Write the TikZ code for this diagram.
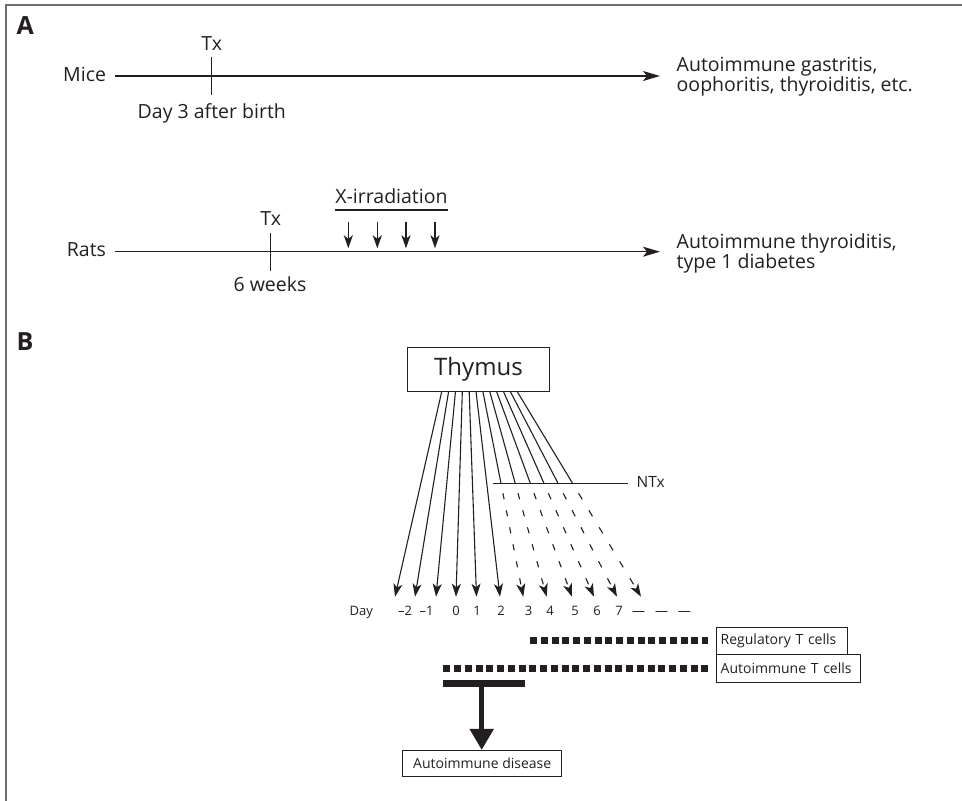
\documentclass[tikz,border=0pt]{standalone}
\usepackage{fontspec}
\setmainfont{Open Sans}
\usetikzlibrary{arrows.meta,calc}
\definecolor{ink}{HTML}{231F20}
\definecolor{framecol}{HTML}{6D6D6D}
\tikzset{
  txt/.style={inner sep=0pt, outer sep=0pt, text=ink, font=\fontsize{19.5}{20}\selectfont},
  lab/.style={inner sep=0pt, outer sep=0pt, text=ink, font=\bfseries\fontsize{25}{25}\selectfont, anchor=base west},
  daytxt/.style={inner sep=0pt, outer sep=0pt, text=ink, font=\fontsize{13}{13}\selectfont, anchor=base},
  smalltxt/.style={inner sep=0pt, outer sep=0pt, text=ink, font=\fontsize{15.5}{15.5}\selectfont},
  boxtxt/.style={draw=ink, line width=0.9pt, outer sep=0pt, text=ink, font=\fontsize{14}{14}\selectfont},
  timeline/.style={draw=ink, line width=1.5pt, -{Stealth[length=17pt, width=10pt, inset=4pt]}},
  tickmark/.style={draw=ink, line width=1.5pt},
  xarrow/.style={draw=ink, line width=1.5pt, -{Stealth[length=13pt, width=9pt, inset=3.5pt]}},
  fanline/.style={draw=ink, line width=1.1pt},
  fanarrow/.style={fanline, -{Stealth[length=13pt, width=9pt, inset=3.5pt]}},
  dotbar/.style={draw=ink, line width=7pt, dash pattern=on 7pt off 3.75pt},
}
\begin{document}
\begin{tikzpicture}[x=1pt,y=-1pt]
\useasboundingbox (0,0) rectangle (962,801);
\draw[framecol, line width=1.5pt] (6,801) -- (6,5) -- (962,5);

% ---------------- Panel A: mice
\node[lab] (labA) at (16.5,34) {A};
\node[txt, anchor=base east] (mice) at (106,81.7) {Mice};
\coordinate (m0) at (115,76);
\coordinate (m1) at (660,76);
\draw[timeline] (m0) -- (m1);
\coordinate (mt0) at (211.7,56.7);
\coordinate (mt1) at (211.7,95);
\draw[tickmark] (mt0) -- (mt1);
\node[txt, anchor=base] (mtx) at (211.7,50) {Tx};
\node[txt, anchor=base west] (mday) at (137.7,118.3) {Day 3 after birth};
\node[txt, anchor=base west, align=left] (mres) at (676.7,91.7) {Autoimmune gastritis,\\oophoritis, thyroiditis, etc.};

% ---------------- Panel A: rats
\node[txt, anchor=base east] (rats) at (106,256.7) {Rats};
\coordinate (r0) at (115,251.7);
\coordinate (r1) at (660,251.7);
\draw[timeline] (r0) -- (r1);
\coordinate (rt0) at (270.7,232.7);
\coordinate (rt1) at (270.7,270.7);
\draw[tickmark] (rt0) -- (rt1);
\node[txt, anchor=base] (rtx) at (270.7,225) {Tx};
\node[txt, anchor=base] (rweeks) at (270,291.7) {6 weeks};
\node[txt, anchor=base] (xir) at (391.5,203.3) {X-irradiation};
\coordinate (u0) at (335,210);
\coordinate (u1) at (447.5,210);
\draw[tickmark] (u0) -- (u1);
\foreach \x [count=\n] in {348.3,377.3,406,435} {
  \coordinate (xa\n) at (\x,221.7);
  \coordinate (xb\n) at (\x,248.3);
  \draw[xarrow] (xa\n) -- (xb\n);
}
\node[txt, anchor=base west, align=left] (rres) at (676.7,268.3) {Autoimmune thyroiditis,\\type 1 diabetes};

% ---------------- Panel B
\node[lab] (labB) at (16.5,350) {B};
\node[draw=ink, line width=0.9pt, inner sep=0pt, outer sep=0pt, minimum width=141.6pt, minimum height=44pt, text=ink, font=\fontsize{24}{24}\selectfont] (thy) at (478.5,369.7) {Thymus};

% solid fan arrows
\foreach \i/\t in {0/395, 1/415, 2/436, 3/456, 4/476.5, 5/500} {
  \coordinate (st\i) at ($(thy.south)+(-36.8+6.87*\i,0)$);
  \coordinate (tp\i) at (\t,596.7);
  \draw[fanarrow] (st\i) -- (tp\i);
}
% NTx line
\coordinate (n0) at (493.3,483.3);
\coordinate (n1) at (628.3,483.3);
\draw[fanline, line width=1.3pt] (n0) -- (n1);
\node[smalltxt, anchor=base west] (ntx) at (636.7,487.5) {NTx};
% interrupted fan arrows
\foreach \i/\t in {6/523.3, 7/546.7, 8/572, 9/594, 10/617, 11/641} {
  \coordinate (st\i) at ($(thy.south)+(-36.8+6.87*\i,0)$);
  \coordinate (tp\i) at (\t,596.7);
  \coordinate (nt\i) at ($(st\i)!0.4468!(tp\i)$);
  \draw[fanline] (st\i) -- (nt\i);
  \pgfmathsetmacro\k{sqrt(1+((\t-441.7-6.87*\i)/205)^2)}
  \pgfmathsetmacro\don{6*\k}
  \pgfmathsetmacro\doff{11*\k}
  \pgfmathsetmacro\dph{7*\k}
  \draw[fanarrow, dash pattern=on \don pt off \doff pt, dash phase=\dph pt] (nt\i) -- (tp\i);
}

% day labels
\node[daytxt, anchor=base east] (day) at (373,615) {Day};
\foreach \x/\l [count=\n] in {405/–2, 426.7/–1, 456/0, 477/1, 501/2, 528.5/3, 550/4, 575/5, 597/6, 619/7} {
  \node[daytxt] (d\n) at (\x,615) {\l};
}
\node[daytxt, anchor=base west] (dd) at (632,615) {—\hspace{10pt}—\hspace{10pt}—};

% T cell boxes and bars
\node[boxtxt, anchor=west, inner xsep=4pt, inner ysep=0pt, text width=123pt, align=left, minimum height=26.7pt] (reg) at (716.7,640.7) {Regulatory T cells};
\node[boxtxt, anchor=west, inner xsep=4pt, inner ysep=0pt, text width=136pt, align=left, minimum height=28pt] (aut) at (716.7,668) {Autoimmune T cells};
\coordinate (rb0) at (530,640.7);
\draw[dotbar] (rb0) -- ($(reg.west)+(-8.4,0)$);
\coordinate (ab0) at (443.3,668);
\draw[dotbar] (ab0) -- ($(aut.west)+(-8.4,0)$);

% T-bar and big arrow
\coordinate (tb0) at (443.3,683.3);
\coordinate (tb1) at (525,683.3);
\draw[ink, line width=6.7pt] (tb0) -- (tb1);
\node[boxtxt, inner sep=0pt, minimum width=159pt, minimum height=26.7pt, font=\fontsize{14}{14}\selectfont] (dis) at (482.2,763.3) {Autoimmune disease};
\coordinate (tm) at (481.7,683.3);
\draw[ink, line width=5pt, -{Triangle[length=21pt, width=23pt]}] (tm) -- (tm |- dis.north);
\end{tikzpicture}
\end{document}
